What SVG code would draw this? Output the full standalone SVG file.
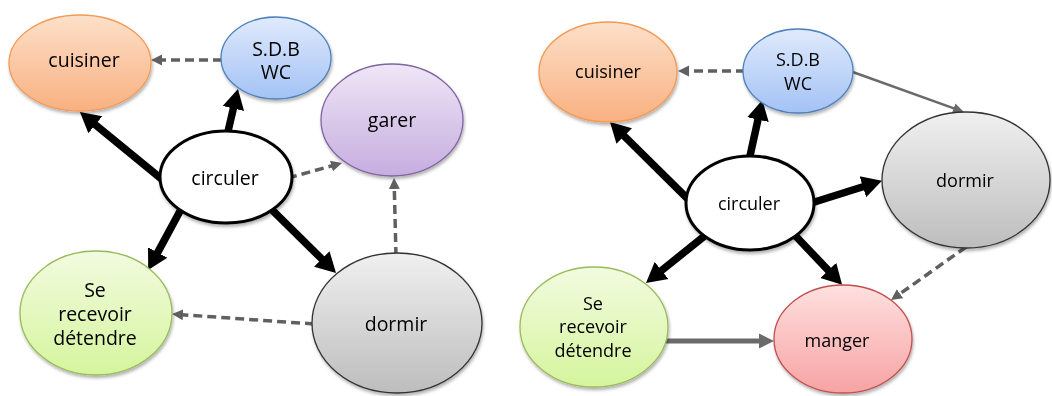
<svg xmlns="http://www.w3.org/2000/svg" width="1052" height="396" viewBox="0 0 1052 396">
<defs>
<linearGradient id="gOrange" x1="0" y1="0" x2="0" y2="1"><stop offset="0" stop-color="#fde0c9"/><stop offset="1" stop-color="#f9b081"/></linearGradient>
<linearGradient id="gBlue" x1="0" y1="0" x2="0" y2="1"><stop offset="0" stop-color="#e0eafc"/><stop offset="1" stop-color="#a3c2f5"/></linearGradient>
<linearGradient id="gPurple" x1="0" y1="0" x2="0" y2="1"><stop offset="0" stop-color="#efe6f7"/><stop offset="1" stop-color="#c6addf"/></linearGradient>
<linearGradient id="gGreen" x1="0" y1="0" x2="0" y2="1"><stop offset="0" stop-color="#f2fbe0"/><stop offset="1" stop-color="#d5f59d"/></linearGradient>
<linearGradient id="gGray" x1="0" y1="0" x2="0" y2="1"><stop offset="0" stop-color="#f0f0f0"/><stop offset="1" stop-color="#bdbdbd"/></linearGradient>
<linearGradient id="gRed" x1="0" y1="0" x2="0" y2="1"><stop offset="0" stop-color="#ffe0e0"/><stop offset="1" stop-color="#f7a3a3"/></linearGradient>
<filter id="sh" x="-20%" y="-20%" width="140%" height="150%"><feDropShadow dx="1" dy="2.5" stdDeviation="1.6" flood-color="#000" flood-opacity="0.3"/></filter>
<marker id="big" markerUnits="userSpaceOnUse" markerWidth="22" markerHeight="24" refX="1" refY="12" orient="auto" viewBox="0 0 22 24"><path d="M0,1 L20,12 L0,23 z" fill="#000"/></marker>
<marker id="dash" markerUnits="userSpaceOnUse" markerWidth="12" markerHeight="12" refX="1" refY="6" orient="auto" viewBox="0 0 12 12"><path d="M0,0.5 L11,6 L0,11.5 z" fill="#606060"/></marker>
<marker id="thin" markerUnits="userSpaceOnUse" markerWidth="12" markerHeight="12" refX="1" refY="6" orient="auto" viewBox="0 0 12 12"><path d="M0,1 L11,6 L0,11 z" fill="#6a6a6a"/></marker>
<marker id="mid" markerUnits="userSpaceOnUse" markerWidth="16" markerHeight="16" refX="1" refY="8" orient="auto" viewBox="0 0 16 16"><path d="M0,0.5 L15,8 L0,15.5 z" fill="#6a6a6a"/></marker>
</defs>
<style>
.t{font-family:"Open Sans","Liberation Sans",sans-serif;fill:#000;text-anchor:middle}
.L{font-size:19.5px}
.R{font-size:18px}
.bk{stroke:#000;stroke-width:7.5;fill:none;marker-end:url(#big)}
.ds{stroke:#606060;stroke-width:3.5;stroke-dasharray:9,5;fill:none;marker-end:url(#dash)}
.gt{stroke:#6a6a6a;stroke-width:2.5;fill:none;marker-end:url(#thin)}
.gm{stroke:#6a6a6a;stroke-width:5;fill:none;marker-end:url(#mid)}
.n{filter:url(#sh)}
</style>
<g id="connectors">
<line class="bk" x1="175" y1="190" x2="94.6" y2="124.1"/>
<line class="bk" x1="226" y1="140" x2="233.6" y2="107.5"/>
<line class="bk" x1="186" y1="200" x2="157.2" y2="253.4"/>
<line class="bk" x1="262" y1="200" x2="322.5" y2="259.7"/>
<line class="ds" x1="222" y1="60" x2="161" y2="60"/>
<line class="ds" x1="288" y1="178" x2="332.4" y2="165.7"/>
<line class="ds" x1="396" y1="256" x2="394.3" y2="188"/>
<line class="ds" x1="314" y1="324" x2="182" y2="314.7"/>
<line class="bk" x1="700" y1="211" x2="623.5" y2="135.3"/>
<line class="bk" x1="748" y1="165" x2="758.2" y2="118.6"/>
<line class="bk" x1="805" y1="205" x2="863.8" y2="186.5"/>
<line class="bk" x1="712" y1="230" x2="660.8" y2="271.1"/>
<line class="bk" x1="788" y1="228" x2="829" y2="271.1"/>
<line class="ds" x1="745" y1="71" x2="688" y2="71"/>
<line class="gt" x1="850" y1="71" x2="954.6" y2="108.6"/>
<line class="ds" x1="966" y1="247" x2="899.2" y2="294.3"/>
<line class="gm" x1="665" y1="341" x2="760" y2="341"/>
</g>
<g id="L-cuisiner" class="n"><ellipse cx="80" cy="63" rx="71" ry="48" fill="url(#gOrange)" stroke="#f39a55" stroke-width="1.3"/><text class="t L" x="84" y="67">cuisiner</text></g>
<g id="L-sdb" class="n"><ellipse cx="276" cy="58" rx="55" ry="41" fill="url(#gBlue)" stroke="#4f81bd" stroke-width="1.3"/><text class="t L" x="276" y="56">S.D.B</text><text class="t L" x="276" y="79">WC</text></g>
<g id="L-garer" class="n"><ellipse cx="392" cy="120" rx="71" ry="56" fill="url(#gPurple)" stroke="#8064a2" stroke-width="1.3"/><text class="t L" x="392" y="127">garer</text></g>
<g id="L-circuler" class="n"><ellipse cx="226" cy="177" rx="66" ry="46" fill="#fff" stroke="#000" stroke-width="3"/><text class="t L" x="225" y="185">circuler</text></g>
<g id="L-recevoir" class="n"><ellipse cx="96" cy="313" rx="76" ry="62" fill="url(#gGreen)" stroke="#9bbb59" stroke-width="1.3"/><text class="t L" x="95" y="297">Se</text><text class="t L" x="95" y="321">recevoir</text><text class="t L" x="95" y="345">détendre</text></g>
<g id="L-dormir" class="n"><ellipse cx="397" cy="323" rx="85" ry="70" fill="url(#gGray)" stroke="#333" stroke-width="1.3"/><text class="t L" x="396" y="331">dormir</text></g>
<g id="R-cuisiner" class="n"><ellipse cx="608" cy="72" rx="69" ry="50" fill="url(#gOrange)" stroke="#f39a55" stroke-width="1.3"/><text class="t R" x="608" y="78">cuisiner</text></g>
<g id="R-sdb" class="n"><ellipse cx="798" cy="71" rx="55" ry="42" fill="url(#gBlue)" stroke="#4f81bd" stroke-width="1.3"/><text class="t R" x="798" y="66">S.D.B</text><text class="t R" x="798" y="90">WC</text></g>
<g id="R-dormir" class="n"><ellipse cx="966" cy="180" rx="84" ry="68" fill="url(#gGray)" stroke="#333" stroke-width="1.3"/><text class="t R" x="965" y="187">dormir</text></g>
<g id="R-circuler" class="n"><ellipse cx="750" cy="203" rx="64" ry="47" fill="#fff" stroke="#000" stroke-width="3"/><text class="t R" x="749" y="210">circuler</text></g>
<g id="R-recevoir" class="n"><ellipse cx="594" cy="327" rx="74" ry="60" fill="url(#gGreen)" stroke="#9bbb59" stroke-width="1.3"/><text class="t R" x="593" y="310">Se</text><text class="t R" x="593" y="333">recevoir</text><text class="t R" x="593" y="357">détendre</text></g>
<g id="R-manger" class="n"><ellipse cx="843" cy="339" rx="69" ry="54" fill="url(#gRed)" stroke="#c0504d" stroke-width="1.3"/><text class="t R" x="837" y="347">manger</text></g>
</svg>
